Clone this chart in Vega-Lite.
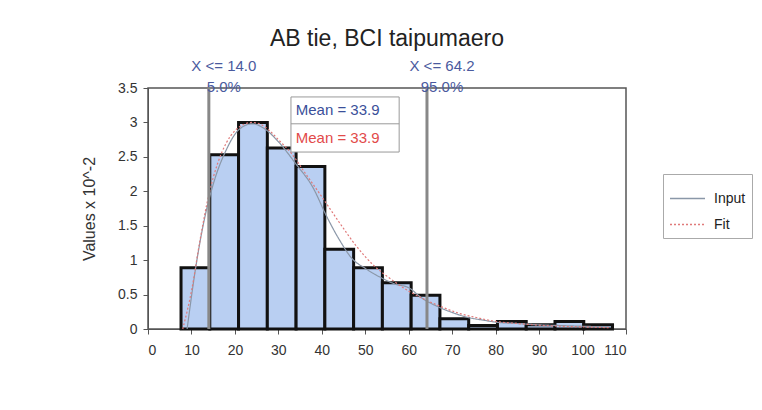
{
  "$schema": "https://vega.github.io/schema/vega-lite/v6.json",
  "width": 478,
  "height": 241,
  "autosize": {"type": "none"},
  "padding": {"left": 148, "top": 88, "right": 136, "bottom": 81},
  "background": "white",
  "title": {"text": "AB tie, BCI taipumaero", "font": "Liberation Sans", "fontSize": 23, "fontWeight": "normal", "color": "#222222", "anchor": "middle", "offset": 8},
  "config": {
    "view": {"stroke": "#555555", "strokeWidth": 1.5},
    "font": "Liberation Sans",
    "axis": {"labelFont": "Liberation Sans", "labelFontSize": 14, "labelColor": "#333333", "titleFont": "Liberation Sans", "titleFontWeight": "normal", "titleColor": "#333333", "domainColor": "#555555", "tickColor": "#555555", "grid": false, "tickSize": 5, "labelPadding": 6, "labelOverlap": false}
  },
  "datasets": {
    "bars": [
      {"x0": 7.6, "x1": 14.22, "v": 0.89},
      {"x0": 14.22, "x1": 20.84, "v": 2.53},
      {"x0": 20.84, "x1": 27.46, "v": 3.0},
      {"x0": 27.46, "x1": 34.08, "v": 2.63},
      {"x0": 34.08, "x1": 40.7, "v": 2.36},
      {"x0": 40.7, "x1": 47.32, "v": 1.16},
      {"x0": 47.32, "x1": 53.94, "v": 0.89},
      {"x0": 53.94, "x1": 60.56, "v": 0.67},
      {"x0": 60.56, "x1": 67.18, "v": 0.49},
      {"x0": 67.18, "x1": 73.8, "v": 0.15},
      {"x0": 73.8, "x1": 80.42, "v": 0.05},
      {"x0": 80.42, "x1": 87.04, "v": 0.11},
      {"x0": 87.04, "x1": 93.66, "v": 0.06},
      {"x0": 93.66, "x1": 100.28, "v": 0.11},
      {"x0": 100.28, "x1": 106.9, "v": 0.06}
    ],
    "curves": [
      {"series": "Input", "x": 9, "y": 0},
      {"series": "Input", "x": 11, "y": 0.9},
      {"series": "Input", "x": 13, "y": 1.6},
      {"series": "Input", "x": 15, "y": 2.1},
      {"series": "Input", "x": 18, "y": 2.6},
      {"series": "Input", "x": 21, "y": 2.9},
      {"series": "Input", "x": 24, "y": 2.98},
      {"series": "Input", "x": 27, "y": 2.9},
      {"series": "Input", "x": 30, "y": 2.72},
      {"series": "Input", "x": 34, "y": 2.4},
      {"series": "Input", "x": 38, "y": 2.05},
      {"series": "Input", "x": 41, "y": 1.65},
      {"series": "Input", "x": 44, "y": 1.3},
      {"series": "Input", "x": 47, "y": 1.02},
      {"series": "Input", "x": 50, "y": 0.88},
      {"series": "Input", "x": 53.5, "y": 0.75},
      {"series": "Input", "x": 57, "y": 0.65},
      {"series": "Input", "x": 60, "y": 0.6},
      {"series": "Input", "x": 63, "y": 0.45},
      {"series": "Input", "x": 66.5, "y": 0.33},
      {"series": "Input", "x": 70, "y": 0.24},
      {"series": "Input", "x": 73.5, "y": 0.17},
      {"series": "Input", "x": 77, "y": 0.13},
      {"series": "Input", "x": 80, "y": 0.1},
      {"series": "Input", "x": 85, "y": 0.08},
      {"series": "Input", "x": 90, "y": 0.06},
      {"series": "Input", "x": 95, "y": 0.05},
      {"series": "Input", "x": 100, "y": 0.04},
      {"series": "Input", "x": 106, "y": 0.03},
      {"series": "Fit", "x": 8, "y": 0},
      {"series": "Fit", "x": 10, "y": 0.55},
      {"series": "Fit", "x": 12, "y": 1.3},
      {"series": "Fit", "x": 14, "y": 1.95},
      {"series": "Fit", "x": 16, "y": 2.4},
      {"series": "Fit", "x": 18, "y": 2.7},
      {"series": "Fit", "x": 20, "y": 2.88},
      {"series": "Fit", "x": 22, "y": 2.97},
      {"series": "Fit", "x": 24, "y": 3.0},
      {"series": "Fit", "x": 26, "y": 2.97},
      {"series": "Fit", "x": 28, "y": 2.88},
      {"series": "Fit", "x": 30, "y": 2.75},
      {"series": "Fit", "x": 33, "y": 2.55},
      {"series": "Fit", "x": 36, "y": 2.28},
      {"series": "Fit", "x": 40, "y": 1.92},
      {"series": "Fit", "x": 44, "y": 1.55},
      {"series": "Fit", "x": 48, "y": 1.2},
      {"series": "Fit", "x": 52, "y": 0.92},
      {"series": "Fit", "x": 56, "y": 0.72},
      {"series": "Fit", "x": 60, "y": 0.55},
      {"series": "Fit", "x": 64, "y": 0.42},
      {"series": "Fit", "x": 68, "y": 0.31},
      {"series": "Fit", "x": 72, "y": 0.22},
      {"series": "Fit", "x": 76, "y": 0.16},
      {"series": "Fit", "x": 80, "y": 0.11},
      {"series": "Fit", "x": 85, "y": 0.08},
      {"series": "Fit", "x": 90, "y": 0.055},
      {"series": "Fit", "x": 95, "y": 0.04},
      {"series": "Fit", "x": 100, "y": 0.03},
      {"series": "Fit", "x": 106, "y": 0.02}
    ],
    "marks": [
      {"x": 14.0, "top": "X <= 14.0", "pct": "5.0%"},
      {"x": 64.2, "top": "X <= 64.2", "pct": "95.0%"}
    ],
    "meanbox": [{"x0": 32.9, "x1": 57.8, "y0": 2.57, "y1": 3.37, "ymid": 2.98}],
    "means": [
      {"x": 34.0, "y": 3.18, "label": "Mean = 33.9", "kind": "Input"},
      {"x": 34.0, "y": 2.77, "label": "Mean = 33.9", "kind": "Fit"}
    ]
  },
  "layer": [
    {
      "data": {"name": "bars"},
      "mark": {"type": "rect", "fill": "#b9cff2", "stroke": "#111111", "strokeWidth": 3},
      "encoding": {
        "x": {"field": "x0", "type": "quantitative", "scale": {"domain": [0, 110], "nice": false, "zero": false}, "axis": {"values": [0,10,20,30,40,50,60,70,80,90,100,110], "title": null, "labelPadding": 9}},
        "x2": {"field": "x1"},
        "y": {"field": "v", "type": "quantitative", "scale": {"domain": [0, 3.5], "nice": false}, "axis": {"values": [0,0.5,1,1.5,2,2.5,3,3.5], "format": "~g", "title": "Values x 10^-2", "titleFontSize": 16, "titlePadding": 20}},
        "y2": {"datum": 0}
      }
    },
    {
      "data": {"name": "curves"},
      "mark": {"type": "line", "strokeWidth": 1.2, "interpolate": "monotone"},
      "encoding": {
        "x": {"field": "x", "type": "quantitative", "axis": {"values": [0,10,20,30,40,50,60,70,80,90,100,110], "title": null, "labelPadding": 9}},
        "y": {"field": "y", "type": "quantitative", "axis": {"values": [0,0.5,1,1.5,2,2.5,3,3.5], "format": "~g", "title": "Values x 10^-2", "titleFontSize": 16, "titlePadding": 20}},
        "color": {"field": "series", "type": "nominal", "scale": {"domain": ["Input", "Fit"], "range": ["#8a97a8", "#e07a7a"]},
          "legend": {"title": null, "orient": "none", "legendX": 515, "legendY": 86, "symbolType": "stroke", "symbolSize": 1225, "symbolStrokeWidth": 1.5, "labelFontSize": 14, "labelColor": "#222222", "labelFont": "Liberation Sans", "strokeColor": "#aaaaaa", "padding": 6, "rowPadding": -8, "labelOffset": 8}},
        "strokeDash": {"field": "series", "type": "nominal", "scale": {"domain": ["Input", "Fit"], "range": [[1, 0], [2, 2]]}, "legend": null}
      }
    },
    {
      "data": {"name": "marks"},
      "mark": {"type": "rule", "color": "#888888", "strokeWidth": 3},
      "encoding": {
        "x": {"field": "x", "type": "quantitative", "axis": {"values": [0,10,20,30,40,50,60,70,80,90,100,110], "title": null, "labelPadding": 9}},
        "y": {"datum": 0, "type": "quantitative", "axis": {"values": [0,0.5,1,1.5,2,2.5,3,3.5], "format": "~g", "title": "Values x 10^-2", "titleFontSize": 16, "titlePadding": 20}},
        "y2": {"datum": 3.5}
      }
    },
    {
      "data": {"name": "marks"},
      "mark": {"type": "text", "fontSize": 15, "color": "#4a5a9e", "align": "center", "dx": 15, "dy": -22, "baseline": "middle"},
      "encoding": {
        "x": {"field": "x", "type": "quantitative", "axis": {"values": [0,10,20,30,40,50,60,70,80,90,100,110], "title": null, "labelPadding": 9}},
        "y": {"datum": 3.5, "type": "quantitative", "axis": {"values": [0,0.5,1,1.5,2,2.5,3,3.5], "format": "~g", "title": "Values x 10^-2", "titleFontSize": 16, "titlePadding": 20}},
        "text": {"field": "top"}
      }
    },
    {
      "data": {"name": "marks"},
      "mark": {"type": "text", "fontSize": 15, "color": "#4a5a9e", "align": "center", "dx": 15, "dy": -1, "baseline": "middle"},
      "encoding": {
        "x": {"field": "x", "type": "quantitative", "axis": {"values": [0,10,20,30,40,50,60,70,80,90,100,110], "title": null, "labelPadding": 9}},
        "y": {"datum": 3.5, "type": "quantitative", "axis": {"values": [0,0.5,1,1.5,2,2.5,3,3.5], "format": "~g", "title": "Values x 10^-2", "titleFontSize": 16, "titlePadding": 20}},
        "text": {"field": "pct"}
      }
    },
    {
      "data": {"name": "meanbox"},
      "mark": {"type": "rect", "fill": "white", "stroke": "#999999", "strokeWidth": 1},
      "encoding": {
        "x": {"field": "x0", "type": "quantitative", "axis": {"values": [0,10,20,30,40,50,60,70,80,90,100,110], "title": null, "labelPadding": 9}},
        "x2": {"field": "x1"},
        "y": {"field": "y0", "type": "quantitative", "axis": {"values": [0,0.5,1,1.5,2,2.5,3,3.5], "format": "~g", "title": "Values x 10^-2", "titleFontSize": 16, "titlePadding": 20}},
        "y2": {"field": "y1"}
      }
    },
    {
      "data": {"name": "meanbox"},
      "mark": {"type": "rule", "color": "#999999", "strokeWidth": 1},
      "encoding": {
        "x": {"field": "x0", "type": "quantitative", "axis": {"values": [0,10,20,30,40,50,60,70,80,90,100,110], "title": null, "labelPadding": 9}},
        "x2": {"field": "x1"},
        "y": {"field": "ymid", "type": "quantitative", "axis": {"values": [0,0.5,1,1.5,2,2.5,3,3.5], "format": "~g", "title": "Values x 10^-2", "titleFontSize": 16, "titlePadding": 20}}
      }
    },
    {
      "data": {"name": "means"},
      "mark": {"type": "text", "fontSize": 15, "align": "left", "baseline": "middle"},
      "encoding": {
        "x": {"field": "x", "type": "quantitative", "axis": {"values": [0,10,20,30,40,50,60,70,80,90,100,110], "title": null, "labelPadding": 9}},
        "y": {"field": "y", "type": "quantitative", "axis": {"values": [0,0.5,1,1.5,2,2.5,3,3.5], "format": "~g", "title": "Values x 10^-2", "titleFontSize": 16, "titlePadding": 20}},
        "text": {"field": "label"},
        "fill": {"field": "kind", "type": "nominal", "scale": {"domain": ["Input", "Fit"], "range": ["#3a4f9a", "#e24a4a"]}, "legend": null}
      }
    }
  ]
}
